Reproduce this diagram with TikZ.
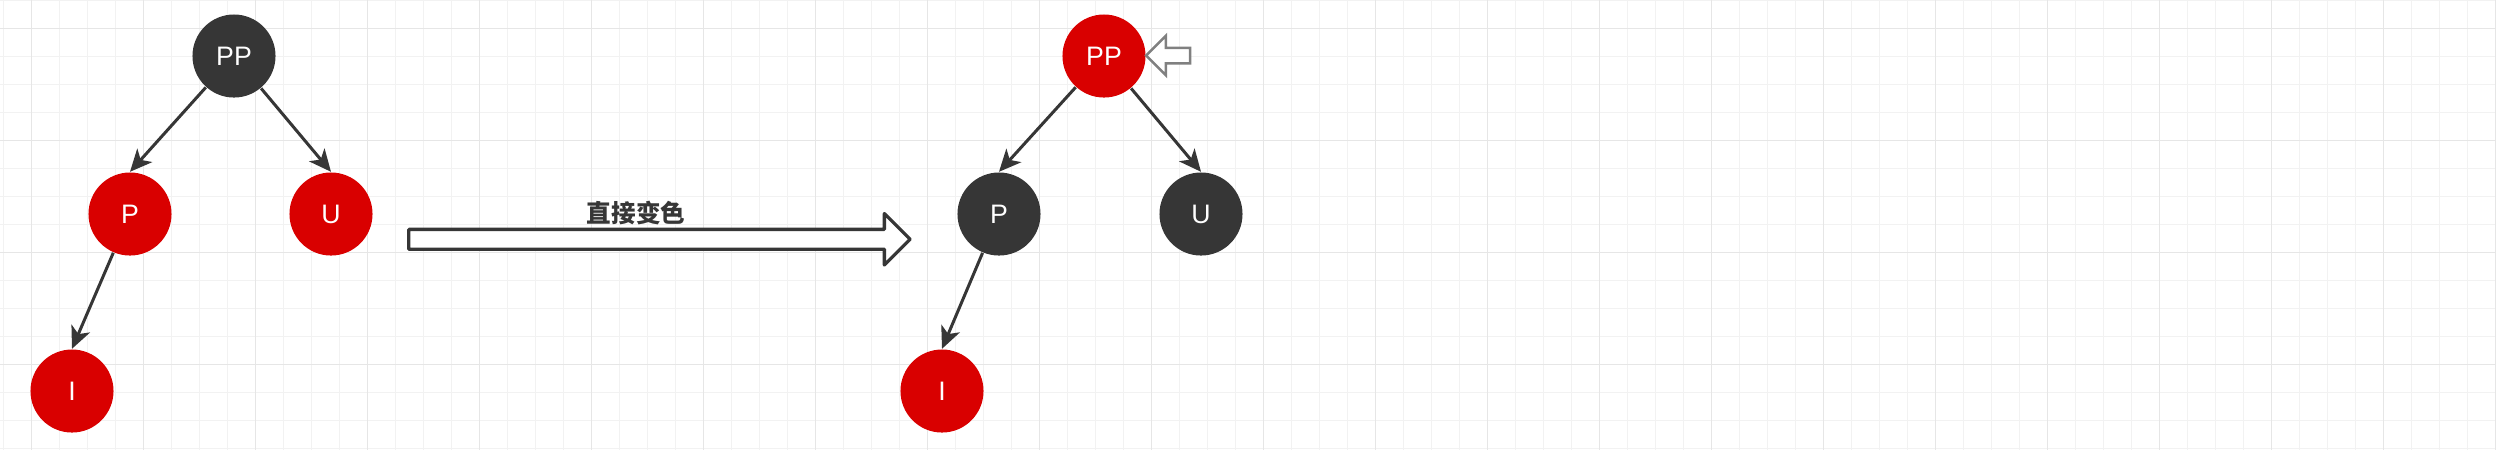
\documentclass[tikz,border=0pt]{standalone}
\usepackage{fontspec}
\setmainfont{Liberation Sans}
\newfontfamily\cjk{Noto Sans CJK SC}
\usepackage{tikz}
\usetikzlibrary{arrows.meta, shapes.arrows, positioning}
\definecolor{rbred}{HTML}{D90000}
\definecolor{rbblack}{HTML}{363636}
\definecolor{gridminor}{HTML}{F2F2F2}
\definecolor{gridmajor}{HTML}{E6E6E6}
\tikzset{
  rbnode/.style={circle, minimum size=0.83cm, inner sep=0pt,
    text=white, font=\fontsize{7.6pt}{9pt}\selectfont},
  rednode/.style={rbnode, fill=rbred},
  blacknode/.style={rbnode, fill=rbblack},
  edge/.style={-{Stealth[length=0.22cm, width=0.2cm, inset=0.06cm]}, line width=0.03cm, draw=rbblack},
  bigarrow/.style={single arrow, draw=rbblack, fill=white, line width=0.033cm, line join=round,
    inner sep=0.0825cm, single arrow head extend=0.158cm, minimum height=5.01cm},
  markarrow/.style={single arrow, shape border rotate=180, draw=gray, fill=white, line width=0.025cm,
    inner sep=0.065cm, single arrow head extend=0.12cm, minimum height=0.44cm}
}

\begin{document}
\begin{tikzpicture}[x=0.01cm, y=-0.01cm]
\useasboundingbox (0,0) rectangle (2496,450);
\fill[white] (0,0) rectangle (2496,450);
% background grid
\foreach \k in {0,...,89} \draw[gridminor, line width=0.012cm] (3.5+28*\k,0) -- (3.5+28*\k,450);
\foreach \k in {0,...,16} \draw[gridminor, line width=0.012cm] (0,0.5+28*\k) -- (2496,0.5+28*\k);
\foreach \k in {0,...,22} \draw[gridmajor, line width=0.015cm] (31.5+112*\k,0) -- (31.5+112*\k,450);
\foreach \k in {0,...,3} \draw[gridmajor, line width=0.015cm] (0,28.5+112*\k) -- (2496,28.5+112*\k);

% before
\node (PPa) [blacknode] at (234,56) {PP};
\node (Pa) [rednode] at (130,214) {P};
\node (Ua) [rednode] at (331,214) {U};
\node (Ia) [rednode] at (72,391) {I};

\draw[edge] (PPa) -- (Pa.north);
\draw[edge] (PPa) -- (Ua.north);
\draw[edge] (Pa) -- (Ia.north);

% recolour step
\node (chg) [bigarrow] at (654.5,239.25) {};
\node (chglbl) [text=rbblack, font=\cjk\bfseries\fontsize{7pt}{9pt}\selectfont] at (636,213) {直接变色};

% after
\node (PPb) [rednode] at (1104,56) {PP};
\node (Pb) [blacknode] at (999,214) {P};
\node (Ub) [blacknode] at (1201,214) {U};
\node (Ib) [rednode] at (942,391) {I};
\node (cur) [markarrow] at (1172,55.5) {};

\draw[edge] (PPb) -- (Pb.north);
\draw[edge] (PPb) -- (Ub.north);
\draw[edge] (Pb) -- (Ib.north);
\end{tikzpicture}
\end{document}
